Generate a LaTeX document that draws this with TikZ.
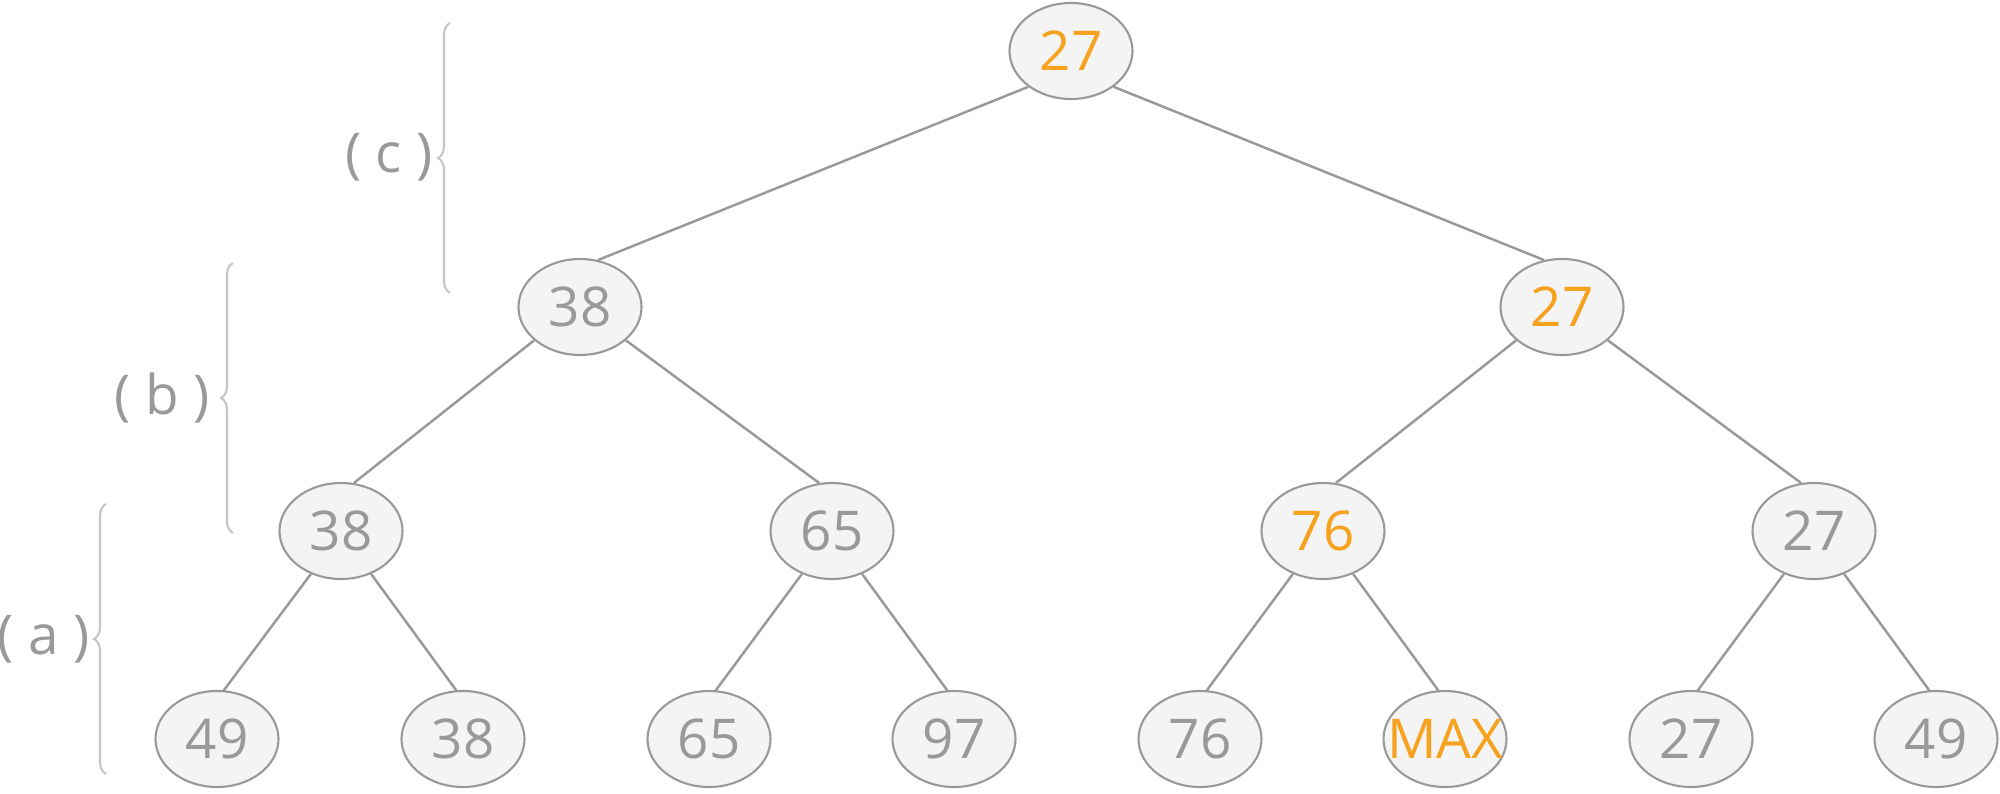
\documentclass[tikz,border=0pt]{standalone}
\usepackage{fontspec}
\setmainfont{Open Sans}
\usetikzlibrary{shapes.geometric,decorations.pathreplacing}
\definecolor{heapgray}{HTML}{999999}
\definecolor{heapor}{HTML}{F6A21E}
\definecolor{heapfill}{HTML}{F4F4F4}
\definecolor{bracegray}{HTML}{C6C6C6}

\begin{document}
\begin{tikzpicture}[x=1cm,y=1cm,font=\fontsize{15.6}{18}\selectfont,
 key/.style={ellipse,draw=heapgray,line width=.6pt,fill=heapfill,minimum width=1.23cm,
  minimum height=.96cm,inner sep=0pt,text=heapgray},
 hot/.style={key,text=heapor},
 ln/.style={heapgray,line width=.7pt},
 br/.style={bracegray,line width=.6pt,decorate,decoration={brace,amplitude=1.2mm}},
 lab/.style={anchor=east,text=heapgray,inner sep=0pt}]
\useasboundingbox (0,0) rectangle (20,7.93);
\node[hot] (k1) at (10.71,7.42) {27};
\node[key] (k2) at (5.80,4.86) {38};
\node[hot] (k3) at (15.62,4.86) {27};
\foreach \x/\t/\s [count=\i from 4] in {3.41/38/key,8.32/65/key,13.23/76/hot,18.14/27/key}
 \node[\s] (k\i) at (\x,2.62) {\t};
\foreach \x/\t/\s [count=\i from 8] in {2.17/49/key,4.63/38/key,7.09/65/key,9.54/97/key,
 12.00/76/key,14.45/{\makebox[0pt]{MAX}}/hot,16.91/27/key,19.36/49/key}
 \node[\s] (k\i) at (\x,.54) {\t};
% left child from parent's lower left, right child mirrored
\foreach \l/\a/\b in {2/220/69,4/216/75,6/216/75,8/235/82,10/235/82,12/235/82,14/235/82} {
 \pgfmathtruncatemacro\p{\l/2}
 \pgfmathtruncatemacro\r{\l+1}
 \pgfmathtruncatemacro\c{540-\a}
 \pgfmathtruncatemacro\d{180-\b}
 \draw[ln] (k\p.\a) -- (k\l.\b);
 \draw[ln] (k\p.\c) -- (k\r.\d);}
\draw[br] (1.06,.19) -- (1.06,2.89);
\draw[br] (2.33,2.60) -- (2.33,5.30);
\draw[br] (4.50,5.00) -- (4.50,7.70);
\node[lab] (la) at (.90,1.54) {( a )};
\node[lab] (lb) at (2.10,3.95) {( b )};
\node[lab] (lc) at (4.33,6.36) {( c )};
\end{tikzpicture}
\end{document}
